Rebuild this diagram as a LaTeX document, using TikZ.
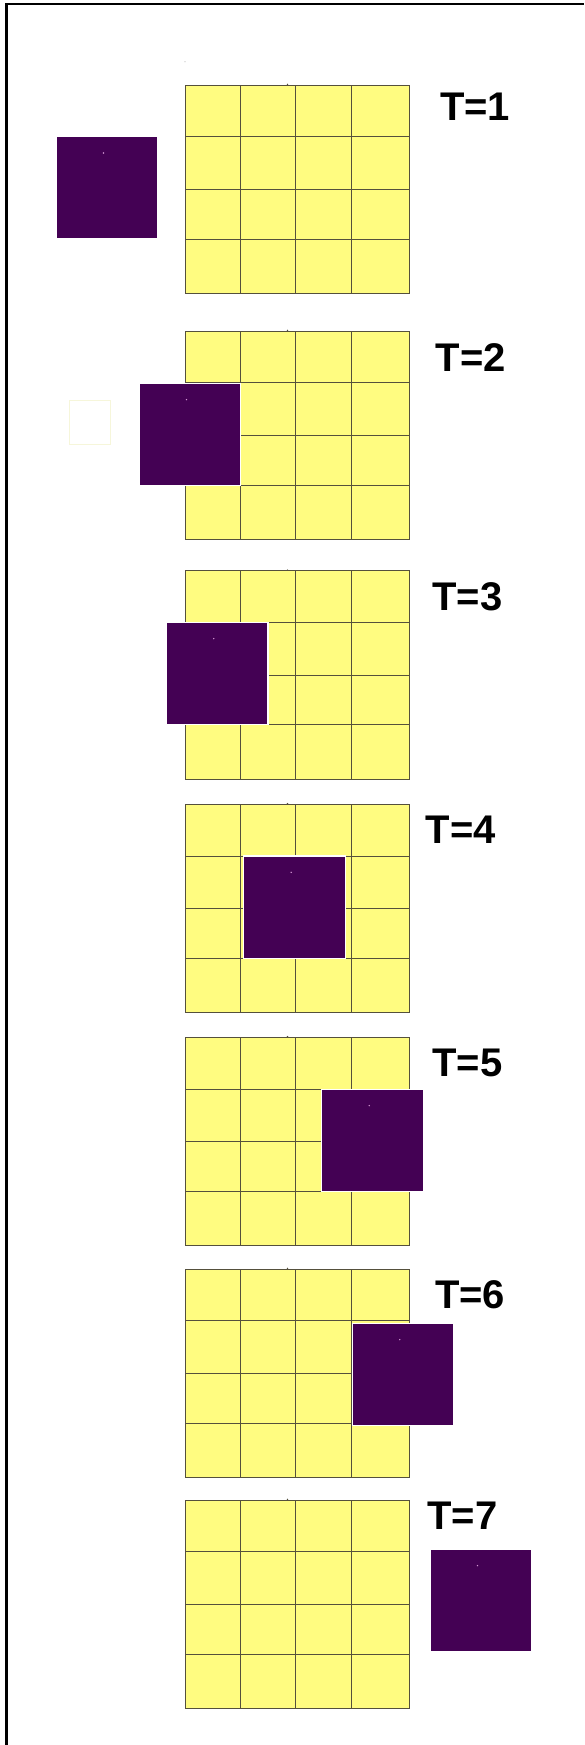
\documentclass[tikz,border=0pt]{standalone}
\usepackage{fontspec}
\setmainfont{Liberation Sans}
\definecolor{cellyellow}{RGB}{255,252,128}
\definecolor{viridispurple}{RGB}{68,1,84}
\definecolor{gridline}{RGB}{85,80,60}
\definecolor{faintline}{RGB}{246,246,218}
\definecolor{pinkdot}{RGB}{210,150,210}
\tikzset{
  gridl/.style={draw=gridline, line width=0.9pt},
  cellfill/.style={fill=cellyellow},
  purplesq/.style={rectangle, fill=viridispurple, draw=white, line width=1.4pt,
    minimum width=101.7pt, minimum height=102.3pt, inner sep=0pt, outer sep=0pt},
  tlabel/.style={inner sep=0pt, outer sep=0pt, font=\fontsize{40}{48}\selectfont\bfseries},
  framel/.style={draw=black, line width=2.7pt}
}
\begin{document}
\begin{tikzpicture}[x=1pt,y=-1pt]
\useasboundingbox (0,0) rectangle (584,1745);
\fill[white] (0,0) rectangle (584,1745);
\draw[framel] (6.5,1745) -- (6.5,4) -- (584,4);
\fill[black!25] (185,61.7) circle[radius=0.6pt];
\foreach \n/\gt/\px/\py/\lx/\ly in {
  1/85/56/136.7/441/91.7,
  2/331/139/383.3/436.7/342.7,
  3/570.7/166.3/622.3/433.3/581.7,
  4/804.3/243.7/856/426.7/815,
  5/1037.3/321.7/1089.3/433.3/1048.3,
  6/1269/352.3/1323.3/436/1280,
  7/1500/430/1549.3/428.3/1500.7}{
  \fill[cellfill] (185,\gt) rectangle (409.3,\gt+208.3);
  \foreach \c in {240.3,295.5,351}{\draw[gridl] (\c,\gt) -- (\c,\gt+208.3);}
  \foreach \r in {51.7,104.3,154}{\draw[gridl] (185,\gt+\r) -- (409.3,\gt+\r);}
  \draw[gridl] (185,\gt) rectangle (409.3,\gt+208.3);
  \fill[gridline] (287.5,\gt-0.6) circle[radius=0.8pt];
  \node[purplesq, anchor=north west] (sq\n) at (\px,\py) {};
  \fill[pinkdot] (\px+47.5,\py+16.3) circle[radius=0.8pt];
  \node[tlabel, anchor=base west] (lab\n) at (\lx-0.9,\ly+28.6) {T=\n};
}
\draw[faintline, line width=1pt] (69.3,400) rectangle (110.7,444.3);
\end{tikzpicture}
\end{document}
